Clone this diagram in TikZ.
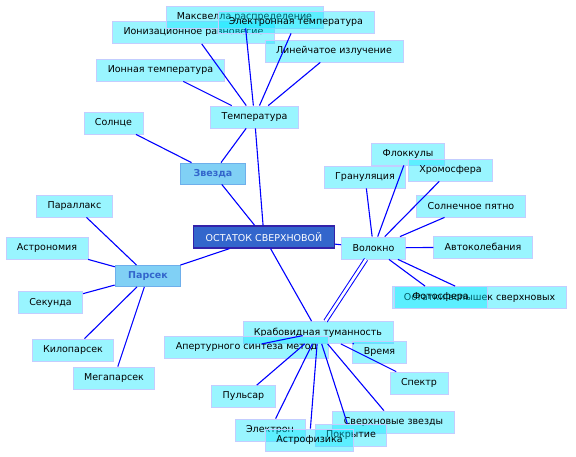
\documentclass[tikz,border=0pt]{standalone}
\usepackage{fontspec}
\setmainfont{DejaVu Sans}
\usepackage{tikz}

\definecolor{boxcyan}{RGB}{0,230,255}
\definecolor{boxline}{RGB}{195,205,255}
\definecolor{hubfill}{RGB}{128,208,245}
\definecolor{hubline}{RGB}{110,175,235}
\definecolor{hubtext}{RGB}{51,102,204}
\definecolor{rootfill}{RGB}{51,102,204}
\definecolor{rootline}{RGB}{51,34,170}
\definecolor{linkblue}{RGB}{0,0,255}

\begin{document}
\begin{tikzpicture}[x=1pt,y=-1pt,font=\fontsize{9.5}{11}\selectfont,
  topic/.style={draw=boxline,line width=0.8pt,fill=boxcyan,fill opacity=0.4,
    text opacity=1,inner xsep=11pt,inner ysep=0pt,minimum height=22pt},
  hub/.style={draw=hubline,line width=0.8pt,fill=hubfill,text=hubtext,
    font=\fontsize{9.5}{11}\selectfont\bfseries,inner xsep=13pt,minimum height=21pt},
  root/.style={draw=rootline,line width=1.2pt,fill=rootfill,text=white,
    inner xsep=12pt,minimum height=22pt},
  link/.style={linkblue,line width=1.1pt}]
  \useasboundingbox (0,0) rectangle (576,457);
  % centre and the three hubs
  \node[root] (ostatok) at (264,237) {ОСТАТОК СВЕРХНОВОЙ};
  \node[hub] (zvezda) at (213,173.5) {Звезда};
  \node[hub] (parsek) at (148,276) {Парсек};
  \node[topic] (temp) at (254.5,117) {Температура};
  \node[topic] (volokno) at (373.5,248) {Волокно};
  \node[topic] (kraba) at (318,332.5) {Крабовидная туманность};
  % around Temperatura
  \node[topic] (solnce) at (113.5,123) {Солнце};
  \node[topic] (ionnaya) at (160.5,70) {Ионная температура};
  \node[topic] (ioniz) at (193.5,32.5) {Ионизационное равновесие};
  \node[topic] (maxwell) at (244.5,17) {Максвелла распределение};
  \node[topic] (eltemp) at (296,22) {Электронная температура};
  \node[topic] (linei) at (334,51) {Линейчатое излучение};
  % around Parsek
  \node[topic] (parallax) at (74.5,206) {Параллакс};
  \node[topic] (astronom) at (47,248) {Астрономия};
  \node[topic] (sekunda) at (50.5,302.5) {Секунда};
  \node[topic] (kiloparsek) at (73,350) {Килопарсек};
  \node[topic] (megaparsek) at (114,378) {Мегапарсек};
  % around Volokno
  \node[topic] (granul) at (365,177) {Грануляция};
  \node[topic] (flokkuly) at (408,154) {Флоккулы};
  \node[topic] (chromo) at (450.5,170) {Хромосфера};
  \node[topic] (pyatno) at (471,206) {Солнечное пятно};
  \node[topic] (avtokol) at (483,247) {Автоколебания};
  \node[topic] (ostatki) at (479.5,297.5) {Остатки вспышек сверхновых};
  \node[topic,minimum width=93pt] (fotosfera) at (440.5,297.5) {Фотосфера};
  % around the Crab nebula
  \node[topic] (apert) at (246.5,347) {Апертурного синтеза метод};
  \node[topic] (vremya) at (379.5,352) {Время};
  \node[topic] (spektr) at (419,383) {Спектр};
  \node[topic] (pulsar) at (243.5,396.5) {Пульсар};
  \node[topic] (elektron) at (270,430) {Электрон};
  \node[topic] (sverh) at (393.5,422) {Сверхновые звезды};
  \node[topic] (pokrytie) at (351,435) {Покрытие};
  \node[topic] (astrofiz) at (309.5,440) {Астрофизика};

  \draw[link] (ostatok) -- (zvezda);
  \draw[link] (ostatok) -- (temp);
  \draw[link] (ostatok) -- (parsek);
  \draw[link] (ostatok) -- (volokno);
  \draw[link] (ostatok) -- (kraba);
  \draw[link] (zvezda) -- (solnce);
  \draw[link] (zvezda) -- (temp);
  \foreach \t in {ionnaya,ioniz,maxwell,eltemp,linei}
    \draw[link] (temp) -- (\t);
  \foreach \t in {parallax,astronom,sekunda,kiloparsek,megaparsek}
    \draw[link] (parsek) -- (\t);
  \foreach \t in {granul,flokkuly,chromo,pyatno,avtokol,fotosfera,ostatki}
    \draw[link] (volokno) -- (\t);
  \draw[link,double=white,double distance=2.6pt,line width=1pt] (volokno) -- (kraba);
  \foreach \t in {apert,vremya,spektr,pulsar,elektron,sverh,pokrytie,astrofiz}
    \draw[link] (kraba) -- (\t);
\end{tikzpicture}
\end{document}
